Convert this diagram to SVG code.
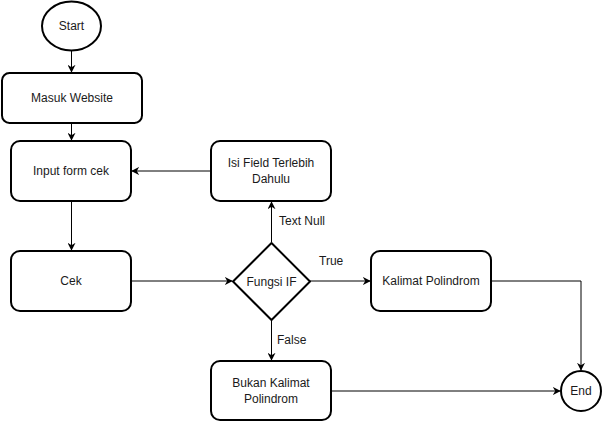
<svg xmlns="http://www.w3.org/2000/svg" width="602" height="422" viewBox="0 0 602 422">
<style>
.n{fill:#fff;stroke:#000;stroke-width:2}
.t{font-family:"Liberation Sans",Arial,sans-serif;font-size:12px;fill:#1a1a1a;text-anchor:middle;dominant-baseline:central}
.l{font-family:"Liberation Sans",Arial,sans-serif;font-size:12px;fill:#1a1a1a;dominant-baseline:central}
.c{fill:none;stroke:#000;stroke-width:1;marker-end:url(#a)}
</style>
<defs>
<marker id="a" viewBox="0 0 10 10" refX="9" refY="5" markerWidth="8" markerHeight="8" markerUnits="userSpaceOnUse" orient="auto">
<path d="M0,0 L10,5 L0,10 L3,5 Z" fill="#000"/>
</marker>
</defs>
<rect width="602" height="422" fill="#fff"/>
<g id="connectors">
<path class="c" d="M71.5,51 V72"/>
<path class="c" d="M71.5,123 V140"/>
<path class="c" d="M71.5,201 V250"/>
<path class="c" d="M131,281 H232"/>
<path class="c" d="M271.5,242 V202"/>
<path class="c" d="M211,171 H132"/>
<path class="c" d="M310,281 H370"/>
<path class="c" d="M491,281 H581 V370"/>
<path class="c" d="M271.5,320 V360"/>
<path class="c" d="M331,391 H560"/>
<text class="l" x="279" y="220.5">Text Null</text>
<text class="l" x="319" y="261">True</text>
<text class="l" x="277" y="340">False</text>
</g>
<g id="start"><ellipse class="n" cx="71.5" cy="26" rx="29.5" ry="24.5"/><text class="t" x="71.5" y="26">Start</text></g>
<g id="masuk"><rect class="n" x="2" y="73" width="140" height="50" rx="7.5"/><text class="t" x="72" y="98">Masuk Website</text></g>
<g id="input"><rect class="n" x="11" y="141" width="120" height="60" rx="9"/><text class="t" x="71" y="171">Input form cek</text></g>
<g id="isi"><rect class="n" x="211" y="141" width="120" height="60" rx="9"/><text class="t" x="271" y="163">Isi Field Terlebih</text><text class="t" x="271" y="178.5">Dahulu</text></g>
<g id="cek"><rect class="n" x="11" y="251" width="120" height="60" rx="9"/><text class="t" x="71" y="281">Cek</text></g>
<g id="fungsi"><path class="n" d="M271.5,243 L310,281.5 L271.5,320 L233,281.5 Z" stroke-linejoin="round"/><text class="t" x="271.5" y="281.5">Fungsi IF</text></g>
<g id="kalimat"><rect class="n" x="371" y="251" width="120" height="60" rx="9"/><text class="t" x="431" y="281">Kalimat Polindrom</text></g>
<g id="bukan"><rect class="n" x="211" y="361" width="120" height="59" rx="9"/><text class="t" x="271" y="383">Bukan Kalimat</text><text class="t" x="271" y="398.5">Polindrom</text></g>
<g id="end"><circle class="n" cx="581" cy="391" r="20"/><text class="t" x="581" y="391">End</text></g>
</svg>
